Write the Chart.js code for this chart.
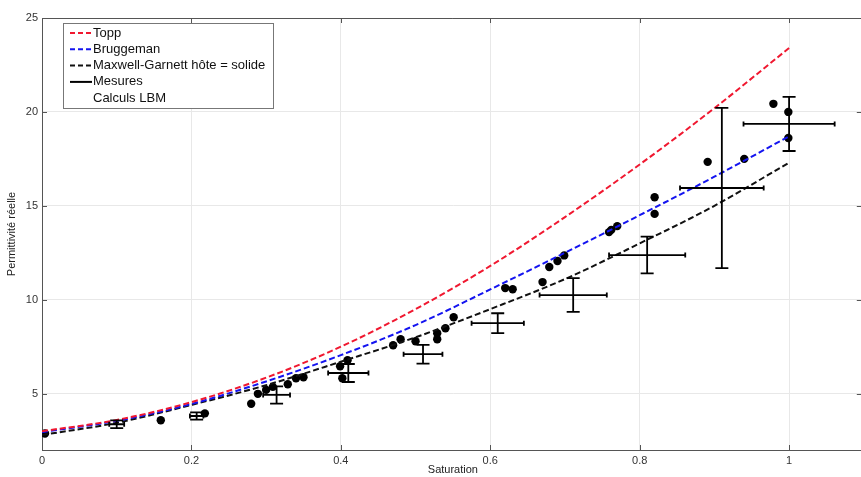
<!DOCTYPE html>
<html>
<head>
<meta charset="utf-8">
<script src="https://cdn.jsdelivr.net/npm/chart.js@4"></script>
<style>
  html, body { margin: 0; padding: 0; background: #fff; overflow: hidden; }
  canvas { display: block; }
</style>
</head>
<body>
<canvas id="chart" width="868" height="477"></canvas>
<script>
// Courbes de modèles
const satGrid = [0, 0.1, 0.2, 0.3, 0.4, 0.5, 0.6, 0.7, 0.8, 0.9, 1.0];
const toppVals = [3.0, 3.6, 4.55, 5.85, 7.5, 9.5, 11.8, 14.4, 17.2, 20.2, 23.4];
const bruggVals = [2.95, 3.55, 4.45, 5.65, 7.05, 8.65, 10.55, 12.5, 14.5, 16.55, 18.7];
const mgVals = [2.8, 3.45, 4.4, 5.45, 6.7, 8.0, 9.5, 11.1, 13.0, 15.0, 17.3];

// Mesures avec barres d'erreur
const mesSat = [0.1, 0.207, 0.314, 0.41, 0.51, 0.61, 0.711, 0.81, 0.91, 1.0];
const mesVal = [3.37, 3.81, 4.93, 6.1, 7.1, 8.75, 10.25, 12.38, 15.95, 19.36];
const mesErrSat = [0.01, 0.009, 0.018, 0.027, 0.026, 0.035, 0.045, 0.051, 0.056, 0.061];
const mesErrVal = [0.21, 0.19, 0.46, 0.48, 0.5, 0.53, 0.9, 0.98, 4.27, 1.44];

// Calculs LBM
const lbmSat = [0.004, 0.159, 0.218, 0.28, 0.289, 0.3, 0.309, 0.329, 0.34, 0.35,
  0.399, 0.409, 0.402, 0.47, 0.48, 0.5, 0.529, 0.529, 0.54, 0.551,
  0.62, 0.63, 0.67, 0.679, 0.69, 0.699, 0.759, 0.762, 0.77, 0.82,
  0.82, 0.891, 0.94, 0.979, 0.999, 0.999];
const lbmVal = [2.88, 3.58, 3.95, 4.46, 4.99, 5.2, 5.36, 5.5, 5.82, 5.87,
  6.46, 6.78, 5.82, 7.58, 7.9, 7.79, 7.9, 8.22, 8.48, 9.07,
  10.62, 10.56, 10.94, 11.74, 12.06, 12.36, 13.6, 13.72, 13.92, 15.46,
  14.57, 17.34, 17.5, 20.43, 20.0, 18.61];

const xTicks = [0, 0.2, 0.4, 0.6, 0.8, 1];
const yTicks = [5, 10, 15, 20, 25];

const pts = (xs, ys) => xs.map((v, i) => ({ x: v, y: ys[i] }));

const axisColor = '#555';

// barres d'erreur des mesures
const errorBars = {
  id: 'errorBars',
  afterDatasetsDraw(chart) {
    const { ctx, scales: { x, y } } = chart;
    ctx.save();
    ctx.strokeStyle = '#000';
    ctx.lineWidth = 1.8;
    mesSat.forEach((s, i) => {
      const px = x.getPixelForValue(s);
      const py = y.getPixelForValue(mesVal[i]);
      const x0 = x.getPixelForValue(s - mesErrSat[i]);
      const x1 = x.getPixelForValue(s + mesErrSat[i]);
      const y0 = y.getPixelForValue(mesVal[i] - mesErrVal[i]);
      const y1 = y.getPixelForValue(mesVal[i] + mesErrVal[i]);
      ctx.beginPath();
      ctx.moveTo(x0, py); ctx.lineTo(x1, py);
      ctx.moveTo(px, y0); ctx.lineTo(px, y1);
      ctx.moveTo(px - 6.5, y0); ctx.lineTo(px + 6.5, y0);
      ctx.moveTo(px - 6.5, y1); ctx.lineTo(px + 6.5, y1);
      ctx.moveTo(x0, py - 2.5); ctx.lineTo(x0, py + 2.5);
      ctx.moveTo(x1, py - 2.5); ctx.lineTo(x1, py + 2.5);
      ctx.stroke();
    });
    ctx.restore();
  }
};

// cadre + graduations vers l'intérieur
const frame = {
  id: 'frame',
  afterDatasetsDraw(chart) {
    const { ctx, chartArea: a, scales: { x, y } } = chart;
    ctx.save();
    ctx.strokeStyle = axisColor;
    ctx.lineWidth = 1;
    ctx.beginPath();
    ctx.moveTo(a.left, a.top + 0.5); ctx.lineTo(a.right, a.top + 0.5);
    ctx.moveTo(a.right - 0.5, a.top); ctx.lineTo(a.right - 0.5, a.bottom);
    xTicks.forEach(v => {
      const px = Math.round(x.getPixelForValue(v)) + 0.5;
      ctx.moveTo(px, a.bottom); ctx.lineTo(px, a.bottom - 5);
      ctx.moveTo(px, a.top); ctx.lineTo(px, a.top + 5);
    });
    yTicks.forEach(v => {
      const py = Math.round(y.getPixelForValue(v)) + 0.5;
      ctx.moveTo(a.left, py); ctx.lineTo(a.left + 5, py);
      ctx.moveTo(a.right, py); ctx.lineTo(a.right - 7, py);
    });
    ctx.stroke();
    ctx.restore();
  }
};

// légende dans la zone du graphique
const boxLegend = {
  id: 'boxLegend',
  afterDraw(chart) {
    const { ctx, chartArea: a } = chart;
    const left = a.left + 21, top = a.top + 5, w = 210, h = 85;
    ctx.save();
    ctx.fillStyle = '#fff';
    ctx.fillRect(left, top, w, h);
    ctx.strokeStyle = '#777';
    ctx.lineWidth = 1;
    ctx.strokeRect(left + 0.5, top + 0.5, w, h);
    ctx.font = '13px "Liberation Sans", Arial, sans-serif';
    ctx.textBaseline = 'middle';
    chart.data.datasets.forEach((ds, i) => {
      const yy = top + 10 + i * 16.3;
      if (ds.legendSample !== 'none') {
        ctx.beginPath();
        ctx.strokeStyle = ds.legendColor;
        ctx.lineWidth = 2;
        ctx.setLineDash(ds.legendSample === 'dash' ? [5, 3] : []);
        ctx.moveTo(left + 7, yy); ctx.lineTo(left + 29, yy);
        ctx.stroke();
        ctx.setLineDash([]);
      }
      ctx.fillStyle = '#111';
      ctx.fillText(ds.label, left + 30, yy);
    });
    ctx.restore();
  }
};

const tickFont = { family: '"Liberation Sans", Arial, sans-serif', size: 11 };

new Chart(document.getElementById('chart'), {
  type: 'scatter',
  data: {
    datasets: [
      {
        label: 'Topp',
        data: pts(satGrid, toppVals),
        showLine: true, borderColor: '#f01830', borderWidth: 2, borderDash: [6, 3],
        pointRadius: 0, cubicInterpolationMode: 'monotone',
        legendSample: 'dash', legendColor: '#f01830'
      },
      {
        label: 'Bruggeman',
        data: pts(satGrid, bruggVals),
        showLine: true, borderColor: '#1414f0', borderWidth: 2, borderDash: [6, 3],
        pointRadius: 0, cubicInterpolationMode: 'monotone',
        legendSample: 'dash', legendColor: '#1414f0'
      },
      {
        label: 'Maxwell-Garnett hôte = solide',
        data: pts(satGrid, mgVals),
        showLine: true, borderColor: '#111', borderWidth: 2, borderDash: [6, 3],
        pointRadius: 0, cubicInterpolationMode: 'monotone',
        legendSample: 'dash', legendColor: '#111'
      },
      {
        label: 'Mesures',
        data: pts(mesSat, mesVal),
        showLine: false, pointRadius: 0,
        legendSample: 'solid', legendColor: '#000'
      },
      {
        label: 'Calculs LBM',
        data: pts(lbmSat, lbmVal),
        showLine: false, pointRadius: 4.2, pointBackgroundColor: '#000',
        pointBorderColor: '#000', pointBorderWidth: 0,
        legendSample: 'none'
      }
    ]
  },
  options: {
    responsive: false,
    animation: false,
    devicePixelRatio: 1,
    layout: { padding: { top: 18, right: 0, bottom: 0, left: 0 } },
    plugins: { legend: { display: false }, tooltip: { enabled: false } },
    scales: {
      x: {
        type: 'linear', min: 0, max: 1.1,
        afterBuildTicks: s => { s.ticks = xTicks.map(v => ({ value: v })); },
        afterFit: s => { s.height = 27; },
        ticks: { font: tickFont, color: '#333', padding: 4, callback: v => String(v) },
        grid: { color: '#e8e8e8', drawTicks: false },
        border: { color: axisColor },
        title: { display: true, text: 'Saturation', font: tickFont, color: '#222', padding: { top: 0, bottom: 0 } }
      },
      y: {
        type: 'linear', min: 2, max: 25,
        afterBuildTicks: s => { s.ticks = yTicks.map(v => ({ value: v })); },
        afterFit: s => { s.width = 42; },
        ticks: { font: tickFont, color: '#333', padding: 4, callback: v => String(v) },
        grid: { color: '#e8e8e8', drawTicks: false },
        border: { color: axisColor },
        title: { display: true, text: 'Permittivité réelle', font: tickFont, color: '#222', padding: { top: 5, bottom: 0 } }
      }
    }
  },
  plugins: [errorBars, frame, boxLegend]
});
</script>
</body>
</html>
